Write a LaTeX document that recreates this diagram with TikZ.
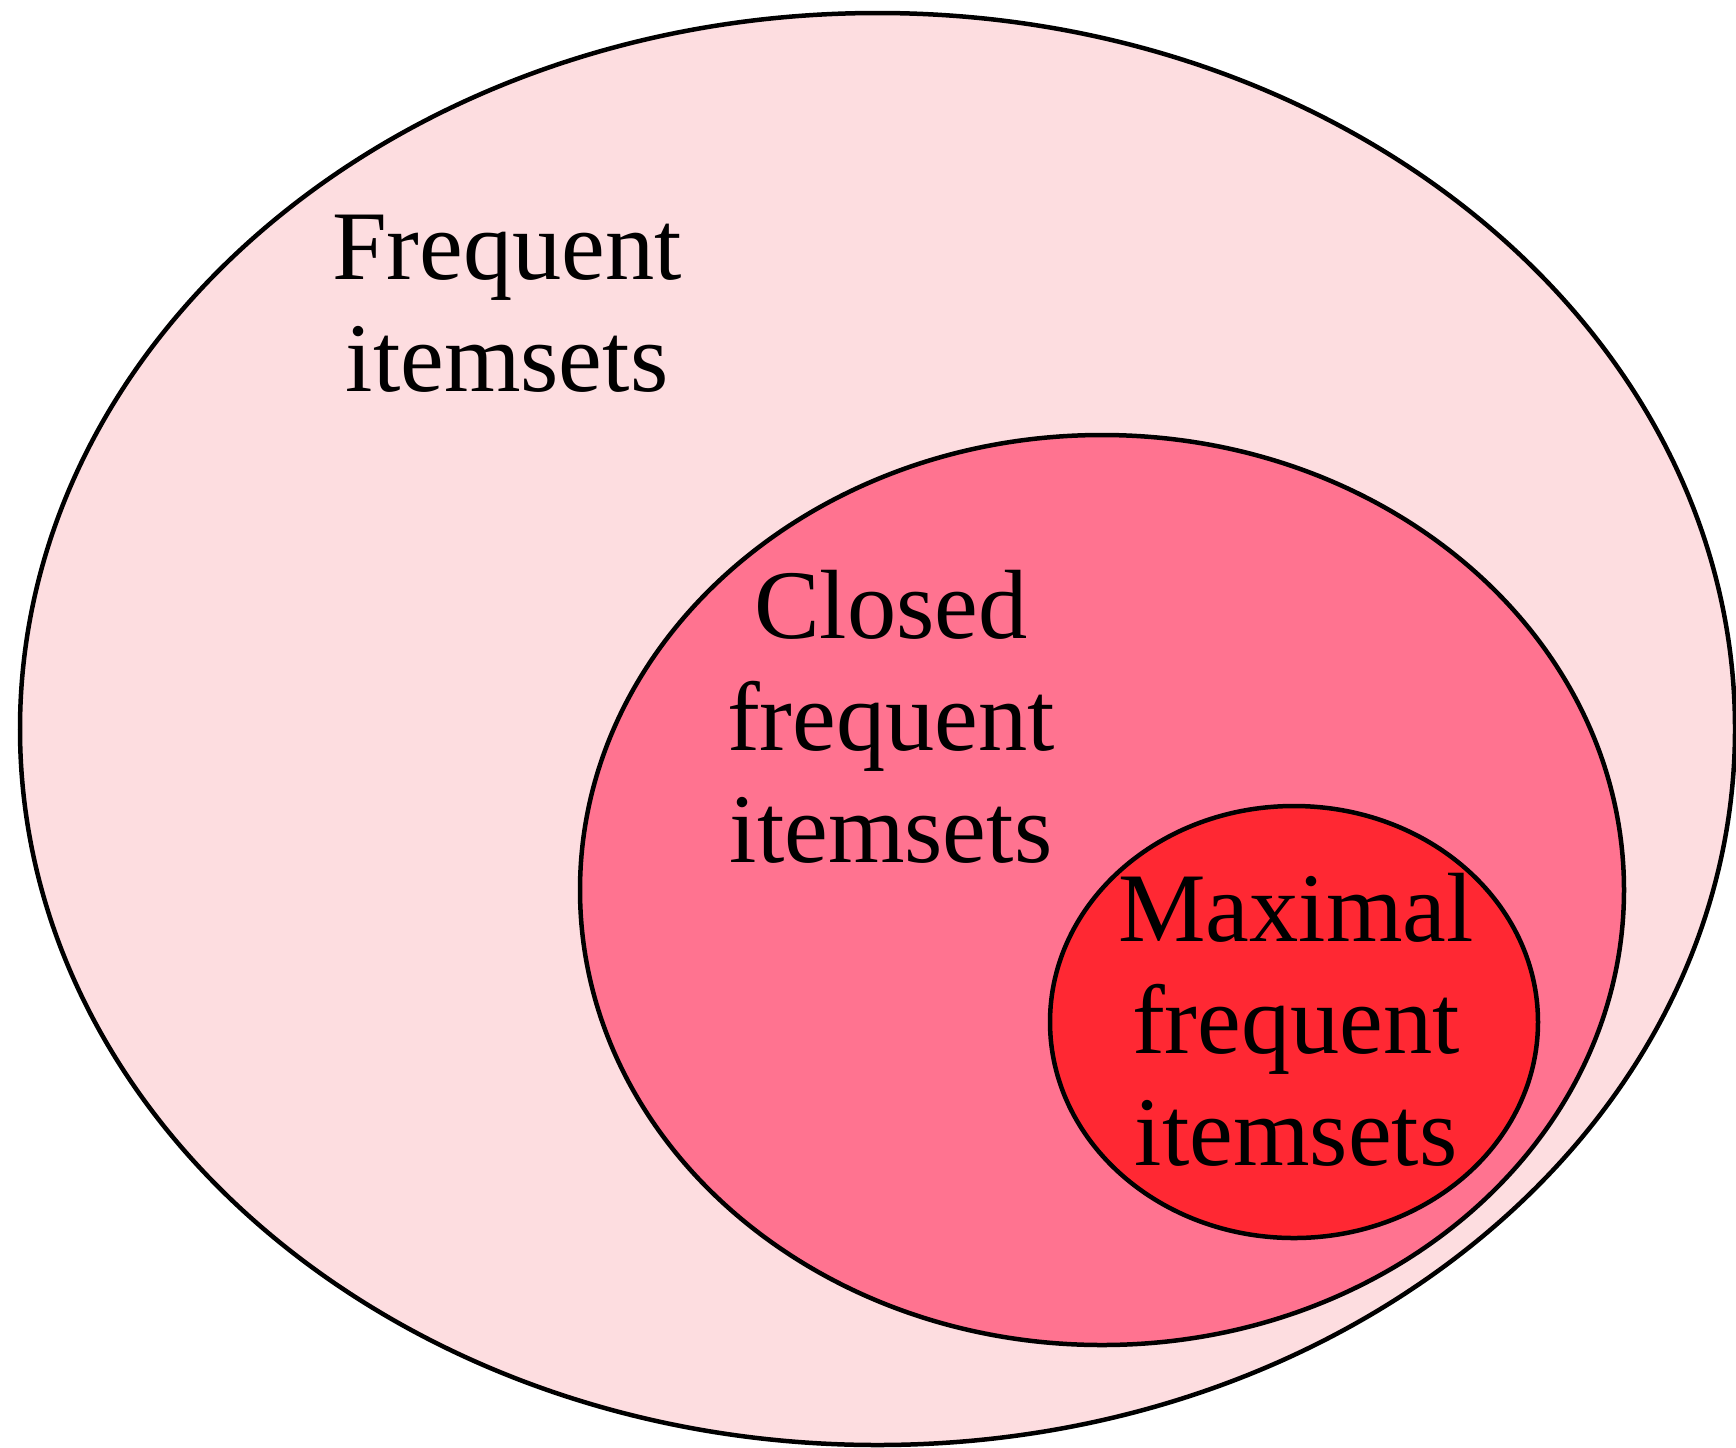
\documentclass[tikz,border=0pt]{standalone}
\usepackage{fontspec}
\setmainfont{Liberation Serif}
\usepackage{tikz}
\usetikzlibrary{shapes.geometric}

\definecolor{freqpink}{HTML}{FDDDE0}
\definecolor{closedpink}{HTML}{FF7390}
\definecolor{maxred}{HTML}{FF2833}

\begin{document}
\begin{tikzpicture}[
   set/.style={draw,ellipse,line width=0.09cm,inner sep=0pt},
   label/.style={anchor=base,align=center,inner sep=0pt,font=\fontsize{56}{63.7}\selectfont}]
\useasboundingbox (0,0) rectangle (34.72,-28.94);
\node[set,fill=freqpink,minimum width=34.3cm,minimum height=28.64cm] (F) at (17.55,-14.58) {};
\node[set,fill=closedpink,minimum width=20.88cm,minimum height=18.2cm] (C) at (22.04,-17.8) {};
\node[set,fill=maxred,minimum width=9.76cm,minimum height=8.64cm] (M) at (25.88,-20.44) {};
\node[label] (Ftext) at (10.14,-7.82) {Frequent\\itemsets};
\node[label] (Ctext) at (17.82,-17.24) {Closed\\frequent\\itemsets};
\node[label] (Mtext) at (25.92,-23.3) {Maximal\\frequent\\itemsets};
\end{tikzpicture}
\end{document}
